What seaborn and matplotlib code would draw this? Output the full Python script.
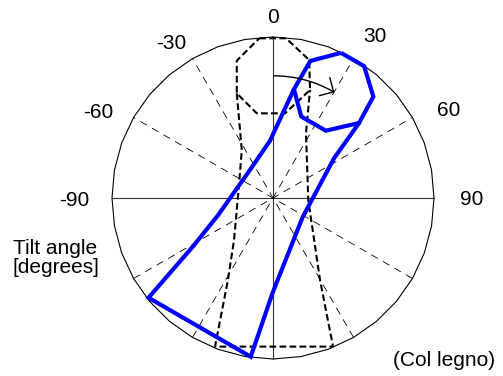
import numpy as np
import pandas as pd
import matplotlib
matplotlib.use("Agg")
import matplotlib.pyplot as plt
import seaborn as sns
from matplotlib.patches import FancyArrowPatch

sns.set_theme(style="white")
plt.rcParams["font.family"] = ["Liberation Sans", "DejaVu Sans"]

# Bow outline at zero tilt, in units of the dial radius (y up, 0 deg = straight up)
frog_x = [-0.085, 0.081, 0.225, 0.230, 0.075, -0.101, -0.225, -0.225]
frog_y = [0.992, 0.992, 0.857, 0.671, 0.526, 0.526, 0.650, 0.853]
stick_x = [-0.225, -0.194, -0.211, -0.242, -0.280, -0.360, 0.373, 0.292, 0.219, 0.205, 0.230]
stick_y = [0.650, 0.298, 0.081, -0.261, -0.509, -0.923, -0.923, -0.509, -0.012, 0.404, 0.671]

# Tilt applied to the bow (degrees, clockwise)
tilt_deg = 30

# Dial labels
tick_labels = ["-90", "-60", "-30", "0", "30", "60", "90"]
tick_label_xy = [(-1.233, -0.050), (-1.087, 0.500), (-0.635, 0.924), (0.0, 1.089),
                 (0.634, 0.966), (1.093, 0.509), (1.231, -0.043)]
guide_angles = [-60, -30, 30, 60]


def rotate(xs, ys, deg):
    t = np.deg2rad(deg)
    xs, ys = np.asarray(xs), np.asarray(ys)
    return xs * np.cos(t) + ys * np.sin(t), -xs * np.sin(t) + ys * np.cos(t)


def closed(xs, ys):
    return list(xs) + [xs[0]], list(ys) + [ys[0]]


def outline_frame(tilt):
    fx, fy = rotate(*closed(frog_x, frog_y), tilt)
    sx, sy = rotate(stick_x, stick_y, tilt)
    return (pd.DataFrame({"x": fx, "y": fy, "order": range(len(fx))}),
            pd.DataFrame({"x": sx, "y": sy, "order": range(len(sx))}))


# Figure: dial centre at (273, 198) px, radius 161 px
W, H, CX, CY, R = 503, 376, 273, 198, 161
fig = plt.figure(figsize=(W / 100, H / 100), dpi=100)
ax = fig.add_axes([0, 0, 1, 1])
ax.set_xlim(-CX / R, (W - CX) / R)
ax.set_ylim(-(H - CY) / R, CY / R)
ax.axis("off")

# Dial rim (polygonal circle) and the 0/90 axes
a = np.deg2rad(np.arange(0, 361, 10))
ax.plot(np.sin(a), np.cos(a), color="black", lw=0.8, zorder=1)
ax.plot([0, 0], [-1, 1], color="#333333", lw=0.8, zorder=1)
ax.plot([-1, 1], [0, 0], color="#333333", lw=0.8, zorder=1)

# Dashed guides every 30 degrees
for g in guide_angles:
    t = np.deg2rad(g)
    ux, uy = np.sin(t), np.cos(t)
    ax.plot([-ux, ux], [-uy, uy], color="black", lw=0.6,
            linestyle=(0, (9, 7)), zorder=1)

# Bow at rest (dashed) and tilted (blue)
frog0, stick0 = outline_frame(0)
frog1, stick1 = outline_frame(tilt_deg)
for df in (frog0, stick0):
    sns.lineplot(data=df, x="x", y="y", sort=False, estimator=None, ax=ax,
                 color="black", lw=1.5, linestyle=(0, (3.2, 1.6)), zorder=2)
for df in (frog1, stick1):
    sns.lineplot(data=df, x="x", y="y", sort=False, estimator=None, ax=ax,
                 color="#0000ff", lw=3.0, zorder=3,
                 solid_joinstyle="miter", solid_capstyle="butt")

# Rotation arrow from the rest frog centre to the tilted frog centre
cx0 = (max(frog_x) + min(frog_x)) / 2
cy0 = (max(frog_y) + min(frog_y)) / 2
cx1, cy1 = rotate([cx0], [cy0], tilt_deg)
rad = -np.tan(np.deg2rad(tilt_deg) / 2) / 2
arrow = FancyArrowPatch((cx0, cy0), (cx1[0], cy1[0]),
                        connectionstyle=f"arc3,rad={rad}",
                        arrowstyle="->,head_length=0.75,head_width=0.75",
                        mutation_scale=10, lw=1.0, color="black",
                        shrinkA=0, shrinkB=0, zorder=4)
ax.add_patch(arrow)

# Labels
for lab, (x, y) in zip(tick_labels, tick_label_xy):
    ax.text(x, y, lab, ha="center", va="baseline", fontsize=15, color="black")
ax.text((13 - CX) / R, (CY - 273.3) / R, "Tilt angle\n[degrees]", ha="left",
        va="baseline", fontsize=15, linespacing=1.05, color="black",
        multialignment="left")
ax.text((444 - CX) / R, (CY - 365.6) / R, "(Col legno)", ha="center",
        va="baseline", fontsize=15, color="black")

fig.savefig("out.png", dpi=100)
